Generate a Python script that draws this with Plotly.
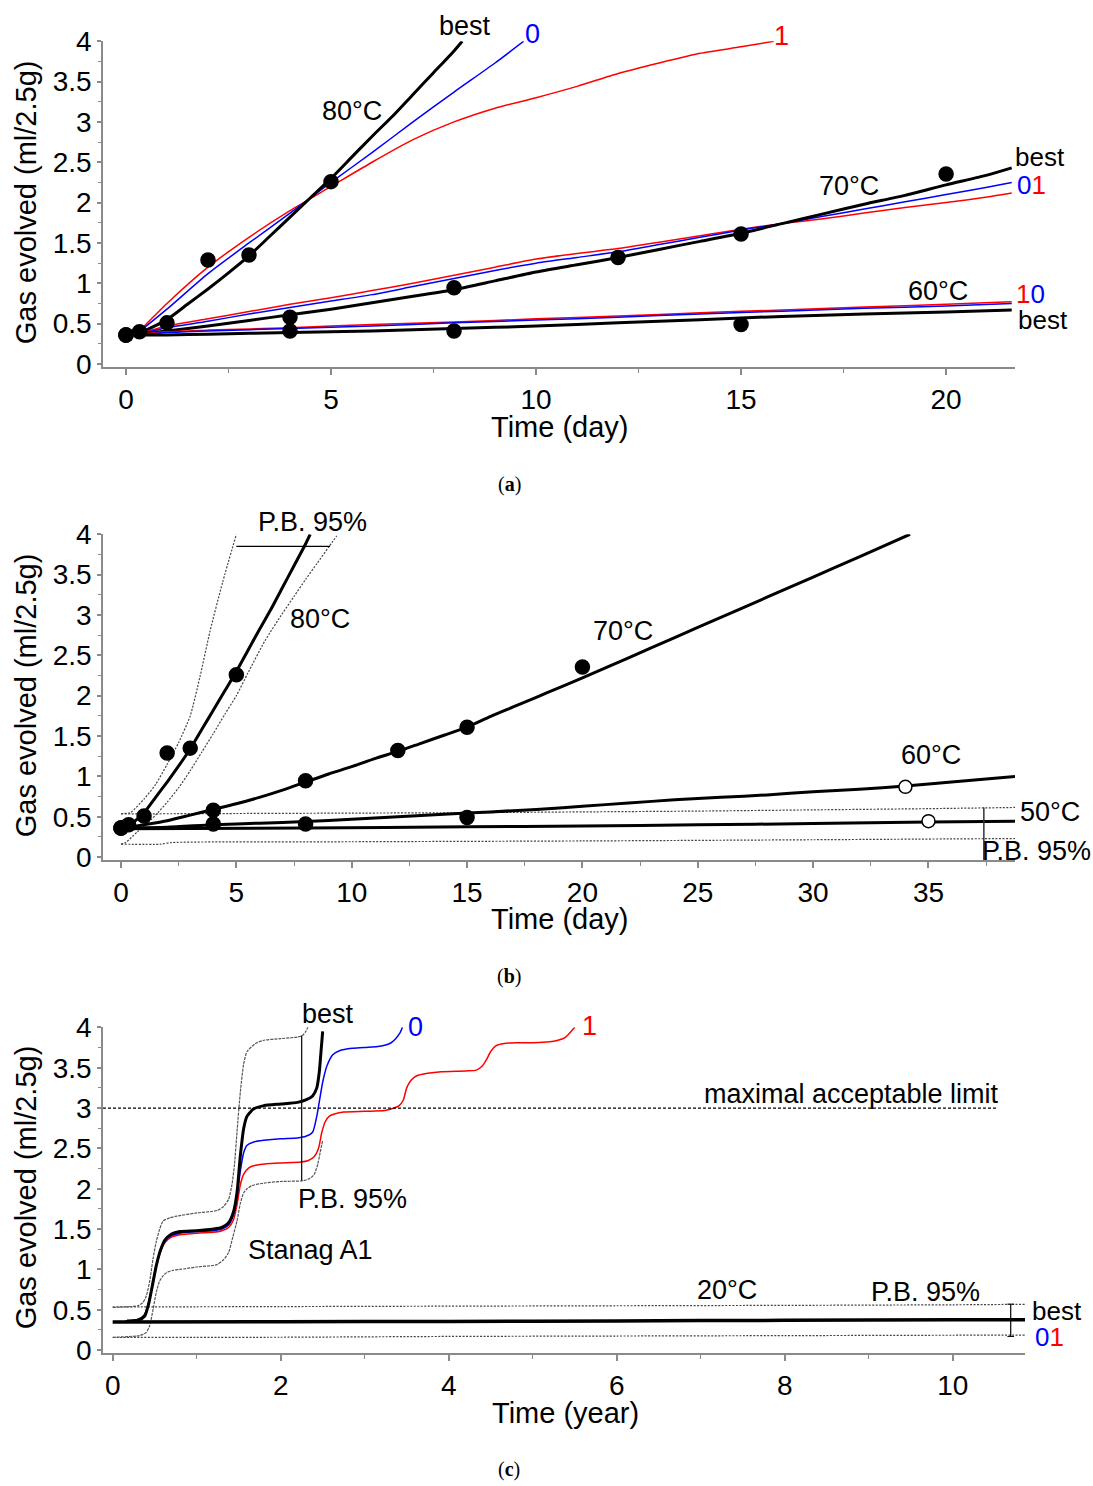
import plotly.graph_objects as go

W, H = 1093, 1486
FONT = "Liberation Sans, Arial, sans-serif"

# ---------------- Panel (a) data (days, ml/2.5g) ----------------
a80_best_t = [0.33, 1, 1.5, 2, 2.5, 3, 3.5, 4, 4.5, 5, 5.5, 6, 6.5, 7, 7.5, 8, 8.2]
a80_best_v = [0.38, 0.55, 0.74, 0.93, 1.13, 1.34, 1.58, 1.82, 2.06, 2.3, 2.56, 2.82, 3.07, 3.34, 3.61, 3.88, 4.0]
a80_m0_t = [0.25, 1, 2, 3, 4, 5, 6, 7, 8, 9, 9.7]
a80_m0_v = [0.37, 0.68, 1.12, 1.5, 1.87, 2.25, 2.62, 3.0, 3.37, 3.73, 4.0]
a80_m1_t = [0.25, 1, 2, 3, 4, 5, 6, 7, 8, 9, 10, 11, 12, 13, 14, 15, 15.8]
a80_m1_v = [0.37, 0.75, 1.2, 1.57, 1.9, 2.2, 2.5, 2.78, 3.0, 3.17, 3.3, 3.44, 3.6, 3.73, 3.85, 3.93, 4.0]

a70_t = [0.3, 1, 2, 3, 4, 5, 6, 7, 8, 9, 10, 11, 12, 13, 14, 15, 16, 17, 18, 19, 20, 21, 21.6]
a70_best_v = [0.37, 0.41, 0.47, 0.54, 0.61, 0.68, 0.76, 0.84, 0.92, 1.03, 1.14, 1.23, 1.32, 1.42, 1.52,
              1.62, 1.74, 1.86, 1.98, 2.09, 2.22, 2.34, 2.43]
a70_m0_v = [0.37, 0.45, 0.53, 0.62, 0.70, 0.78, 0.86, 0.96, 1.06, 1.16, 1.25, 1.32, 1.39, 1.48, 1.57,
            1.66, 1.74, 1.83, 1.92, 2.01, 2.10, 2.19, 2.25]
a70_m1_v = [0.37, 0.47, 0.56, 0.65, 0.74, 0.82, 0.91, 1.0, 1.10, 1.2, 1.30, 1.37, 1.43, 1.51, 1.59,
            1.67, 1.74, 1.80, 1.87, 1.94, 2.0, 2.07, 2.12]

a60_t = [0.3, 1, 2, 4, 6, 8, 10, 12, 14, 16, 18, 20, 21.6]
a60_best_v = [0.36, 0.36, 0.37, 0.39, 0.41, 0.44, 0.47, 0.51, 0.55, 0.59, 0.62, 0.645, 0.67]
a60_m0_v = [0.36, 0.39, 0.41, 0.44, 0.47, 0.51, 0.545, 0.58, 0.62, 0.655, 0.69, 0.72, 0.75]
a60_m1_v = [0.37, 0.40, 0.42, 0.45, 0.49, 0.52, 0.56, 0.595, 0.635, 0.67, 0.705, 0.74, 0.77]

# measured points (filled)
p80_t = [0, 0.33, 1, 2, 3, 5]
p80_v = [0.36, 0.40, 0.51, 1.29, 1.35, 2.26]
p70_t = [0, 4, 8, 12, 15, 20]
p70_v = [0.36, 0.58, 0.945, 1.32, 1.61, 2.355]
p60_t = [0, 4, 8, 15]
p60_v = [0.36, 0.41, 0.41, 0.49]

# ---------------- Panel (b) data ----------------
b80_best_t = a80_best_t
b80_best_v = a80_best_v
b80_up_t = [0, 0.4, 1, 1.5, 2, 2.5, 3, 3.42, 3.86, 4.4, 5.0]
b80_up_v = [0.54, 0.55, 0.72, 0.9, 1.15, 1.42, 1.75, 2.23, 2.8, 3.4, 4.0]
b80_lo_t = [0, 0.2, 0.7, 1, 1.5, 2, 2.5, 3, 3.5, 4, 4.5, 5, 5.5, 6.24, 7, 7.5, 8, 8.5, 9, 9.35]
b80_lo_v = [0.16, 0.18, 0.31, 0.38, 0.52, 0.68, 0.86, 1.07, 1.3, 1.53, 1.77, 2.0, 2.28, 2.68, 3.02,
            3.23, 3.44, 3.64, 3.84, 3.98]
b70_t = [0.35, 1, 2, 3, 4, 5, 6, 7, 8, 9, 10, 11, 12, 13, 14, 15, 16, 17, 18, 19, 20, 22, 24, 26, 28, 30, 32, 34.2]
b70_v = [0.37, 0.40, 0.45, 0.52, 0.59, 0.66, 0.74, 0.83, 0.93, 1.03, 1.12, 1.22, 1.31, 1.41, 1.51, 1.61,
         1.74, 1.86, 1.98, 2.1, 2.22, 2.47, 2.72, 2.97, 3.22, 3.47, 3.72, 4.0]
b60_t = [0, 2, 4, 6, 8, 10, 12, 14, 16, 18, 20, 22, 24, 26, 28, 30, 32, 34, 36, 38.75]
b60_v = [0.36, 0.37, 0.40, 0.42, 0.44, 0.47, 0.50, 0.53, 0.56, 0.59, 0.63, 0.67, 0.71, 0.74, 0.77,
         0.81, 0.84, 0.88, 0.93, 1.0]
b50_t = [0, 8, 15, 20, 25, 30, 35, 38.75]
b50_v = [0.35, 0.36, 0.375, 0.385, 0.40, 0.415, 0.435, 0.445]
b50_up_t = [0, 5, 10, 15, 20, 25, 30, 35, 38.75]
b50_up_v = [0.535, 0.54, 0.545, 0.55, 0.56, 0.57, 0.585, 0.6, 0.615]
b50_lo_t = [0, 1.7, 2.2, 10, 20, 30, 38.75]
b50_lo_v = [0.16, 0.16, 0.18, 0.19, 0.2, 0.215, 0.23]
# open points
o_t = [34, 35]
o_v = [0.87, 0.445]

# ---------------- Panel (c) data (years) ----------------
c_best_t = [0.17, 0.3, 0.38, 0.43, 0.48, 0.52, 0.57, 0.62, 0.7, 0.8, 1.0, 1.2, 1.3, 1.38, 1.44, 1.48, 1.52,
            1.56, 1.6, 1.68, 1.8, 2.0, 2.2, 2.3, 2.38, 2.43, 2.46, 2.48, 2.5]
c_best_v = [0.36, 0.37, 0.42, 0.58, 0.84, 1.05, 1.24, 1.36, 1.44, 1.47, 1.48, 1.5, 1.52, 1.58, 1.72, 1.95,
            2.41, 2.75, 2.9, 2.99, 3.03, 3.05, 3.07, 3.1, 3.15, 3.25, 3.45, 3.7, 3.95]
c_m0_t = [0.15, 0.3, 0.38, 0.43, 0.48, 0.52, 0.57, 0.62, 0.7, 0.8, 1.0, 1.2, 1.3, 1.38, 1.44, 1.48, 1.52,
          1.56, 1.6, 1.68, 1.8, 2.0, 2.2, 2.3, 2.38, 2.43, 2.46, 2.5, 2.55, 2.62, 2.7, 2.85, 3.0, 3.2,
          3.3, 3.36, 3.42, 3.45]
c_m0_v = [0.36, 0.38, 0.44, 0.6, 0.86, 1.06, 1.24, 1.35, 1.42, 1.45, 1.47, 1.48, 1.5, 1.55, 1.68, 1.9,
          2.22, 2.45, 2.54, 2.58, 2.6, 2.62, 2.63, 2.65, 2.7, 2.9, 3.08, 3.32, 3.52, 3.66, 3.71, 3.74,
          3.75, 3.77, 3.8, 3.85, 3.93, 4.0]
c_m1_t = [0.17, 0.3, 0.38, 0.43, 0.48, 0.52, 0.57, 0.62, 0.7, 0.8, 1.0, 1.2, 1.3, 1.38, 1.44, 1.48, 1.52,
          1.56, 1.62, 1.7, 1.83, 2.0, 2.24, 2.33, 2.4, 2.45, 2.49, 2.53, 2.58, 2.65, 2.75, 3.0, 3.24,
          3.35, 3.41, 3.46, 3.5, 3.55, 3.62, 3.75, 3.91, 4.2, 4.33, 4.4, 4.45, 4.5, 4.56, 4.66, 4.8,
          5.0, 5.2, 5.3, 5.38, 5.44, 5.5]
c_m1_v = [0.36, 0.38, 0.44, 0.6, 0.84, 1.04, 1.22, 1.33, 1.4, 1.43, 1.45, 1.46, 1.48, 1.52, 1.62, 1.8,
          2.05, 2.18, 2.26, 2.29, 2.31, 2.32, 2.33, 2.35, 2.4, 2.5, 2.7, 2.83, 2.9, 2.93, 2.95, 2.96,
          2.97, 3.0, 3.03, 3.1, 3.25, 3.34, 3.4, 3.43, 3.45, 3.46, 3.47, 3.52, 3.6, 3.7, 3.77, 3.8,
          3.81, 3.81, 3.82, 3.84, 3.87, 3.93, 4.0]
c_up_t = [0, 0.3, 0.36, 0.4, 0.44, 0.48, 0.52, 0.56, 0.6, 0.68, 0.76, 1.0, 1.24, 1.32, 1.38, 1.42, 1.45,
          1.48, 1.52, 1.56, 1.6, 1.7, 1.8, 2.0, 2.2, 2.26, 2.3, 2.33]
c_up_v = [0.53, 0.55, 0.59, 0.67, 0.85, 1.13, 1.35, 1.5, 1.6, 1.64, 1.66, 1.7, 1.73, 1.78, 1.87, 2.05,
          2.3, 2.7, 3.2, 3.55, 3.7, 3.8, 3.84, 3.86, 3.88, 3.9, 3.95, 4.02]
c_lo_t = [0, 0.32, 0.4, 0.44, 0.48, 0.52, 0.56, 0.6, 0.64, 0.72, 0.8, 1.0, 1.24, 1.32, 1.38, 1.43, 1.48,
          1.52, 1.56, 1.6, 1.66, 1.8, 2.0, 2.27, 2.35, 2.4, 2.44, 2.47, 2.5]
c_lo_v = [0.16, 0.18, 0.22, 0.3, 0.5, 0.72, 0.86, 0.92, 0.96, 0.99, 1.0, 1.03, 1.06, 1.12, 1.21, 1.4,
          1.6, 1.82, 1.95, 2.0, 2.04, 2.07, 2.09, 2.1, 2.13, 2.18, 2.3, 2.45, 2.6]
c20_t = [0, 2, 4, 6, 8, 10, 10.86]
c20_best_v = [0.35, 0.352, 0.356, 0.362, 0.37, 0.376, 0.378]
c20_up_v = [0.535, 0.54, 0.545, 0.55, 0.555, 0.562, 0.568]
c20_lo_v = [0.157, 0.16, 0.17, 0.175, 0.18, 0.185, 0.186]
limit_value = 3.0

BLACK = "#000000"
BLUE = "#0000ff"
RED = "#ff0000"
GREY = "#444444"
AXC = "#8a8a8a"

# vertical calibration of the rendered page (reference pixel -> paper fraction)
OFF, SC = 15.8, 1457.8


def YF(py):
    return 1 - (py - OFF) / SC


fig = go.Figure()


def line(x, y, ax, color=BLACK, width=3, dash="solid"):
    xa, ya = ("x", "y") if ax == 1 else (f"x{ax}", f"y{ax}")
    fig.add_trace(go.Scatter(x=x, y=y, xaxis=xa, yaxis=ya, mode="lines",
                             line=dict(color=color, width=width, dash=dash, shape="spline", smoothing=0.6),
                             showlegend=False, hoverinfo="skip"))


def pts(x, y, ax, fill=BLACK, size=14):
    xa, ya = ("x", "y") if ax == 1 else (f"x{ax}", f"y{ax}")
    fig.add_trace(go.Scatter(x=x, y=y, xaxis=xa, yaxis=ya, mode="markers",
                             marker=dict(color=fill, size=size, line=dict(color=BLACK, width=1.5)),
                             showlegend=False, hoverinfo="skip", cliponaxis=False))


DOT = "2px,1.5px"

# Panel a
for t, v, c, w in [(a80_m1_t, a80_m1_v, RED, 1.5), (a80_m0_t, a80_m0_v, BLUE, 1.5),
                   (a80_best_t, a80_best_v, BLACK, 3),
                   (a70_t, a70_m1_v, RED, 1.5), (a70_t, a70_m0_v, BLUE, 1.5), (a70_t, a70_best_v, BLACK, 3),
                   (a60_t, a60_m1_v, RED, 1.5), (a60_t, a60_m0_v, BLUE, 1.5), (a60_t, a60_best_v, BLACK, 3)]:
    line(t, v, 1, c, w)
pts(p80_t + p70_t + p60_t, p80_v + p70_v + p60_v, 1)

# Panel b
line(b50_up_t, b50_up_v, 2, GREY, 1.2, DOT)
line(b50_lo_t, b50_lo_v, 2, GREY, 1.2, DOT)
line(b80_up_t, b80_up_v, 2, GREY, 1.2, DOT)
line(b80_lo_t, b80_lo_v, 2, GREY, 1.2, DOT)
line(b80_best_t, b80_best_v, 2)
line(b70_t, b70_v, 2)
line(b60_t, b60_v, 2)
line(b50_t, b50_v, 2)
pts(p80_t + p70_t + p60_t, p80_v + p70_v + p60_v, 2)
pts(o_t, o_v, 2, fill="white", size=13)

# Panel c
line(c20_t, c20_up_v, 3, GREY, 1.2, DOT)
line(c20_t, c20_lo_v, 3, GREY, 1.2, DOT)
line(c_up_t, c_up_v, 3, "#555555", 1.2, "3px,1px")
line(c_lo_t, c_lo_v, 3, "#555555", 1.2, "3px,1px")
line(c_m1_t, c_m1_v, 3, RED, 1.5)
line(c_m0_t, c_m0_v, 3, BLUE, 1.5)
line(c_best_t, c_best_v, 3, BLACK, 3)
line(c20_t, c20_best_v, 3, BLACK, 3.5)

# shapes: P.B. markers and limit line
shapes = [
    dict(type="line", xref="x2", yref="y2", x0=5.0, x1=9.06, y0=3.85, y1=3.85, line=dict(color=BLACK, width=1.2)),
    dict(type="line", xref="x2", yref="y2", x0=37.4, x1=37.4, y0=0.615, y1=-0.04, line=dict(color="#333", width=1.5)),
    dict(type="line", xref="x3", yref="y3", x0=2.25, x1=2.25, y0=2.1, y1=3.9, line=dict(color=BLACK, width=1.2)),
    dict(type="line", xref="x3", yref="y3", x0=-0.115, x1=10.53, y0=limit_value, y1=limit_value,
         line=dict(color=BLACK, width=1.2, dash="3px,2px")),
    dict(type="line", xref="x3", yref="y3", x0=10.69, x1=10.69, y0=0.17, y1=0.57, line=dict(color=BLACK, width=1.2)),
    dict(type="line", xref="x3", yref="y3", x0=10.65, x1=10.73, y0=0.57, y1=0.57, line=dict(color=BLACK, width=1)),
    dict(type="line", xref="x3", yref="y3", x0=10.65, x1=10.73, y0=0.17, y1=0.17, line=dict(color=BLACK, width=1)),
]

AF = 27


def pann(text, px, py, size=AF, rot=0, family=FONT, color=BLACK):
    return dict(text=text, x=px / W, y=YF(py), xref="paper", yref="paper", showarrow=False,
                xanchor="center", yanchor="middle", textangle=rot,
                font=dict(family=family, size=size, color=color))


def c01(a, b):
    return f"<span style='color:{a[1]}'>{a[0]}</span><span style='color:{b[1]}'>{b[0]}</span>"


annotations = [
    # panel a
    pann("best", 465, 27), pann("0", 532, 35, color=BLUE), pann("1", 781, 37, color=RED),
    pann("80°C", 352, 112), pann("70°C", 849, 187), pann("best", 1040, 158, size=26),
    pann(c01(("0", BLUE), ("1", RED)), 1031, 186, size=26), pann("60°C", 938, 292),
    pann(c01(("1", RED), ("0", BLUE)), 1030, 295, size=26), pann("best", 1043, 321, size=26),
    # panel b
    pann("P.B. 95%", 312, 523), pann("80°C", 320, 620), pann("70°C", 623, 632),
    pann("60°C", 931, 756), pann("50°C", 1050, 813), pann("P.B. 95%", 1036, 852),
    # panel c
    pann("best", 328, 1015), pann("0", 415, 1028, color=BLUE), pann("1", 589, 1027, color=RED),
    pann("maximal acceptable limit", 851, 1095), pann("P.B. 95%", 352, 1200),
    pann("Stanag A1", 310, 1251), pann("20°C", 727, 1291), pann("P.B. 95%", 925, 1293),
    pann("best", 1057, 1312, size=26), pann(c01(("0", BLUE), ("1", RED)), 1049, 1338, size=26),
]

YT = "Gas evolved (ml/2.5g)"
SERIF = "Liberation Serif, Times New Roman, serif"
annotations += [
    pann(YT, 26, 203, size=29, rot=-90), pann(YT, 26, 696, size=29, rot=-90),
    pann(YT, 26, 1188, size=29, rot=-90),
    pann("Time (day)", 560, 428, size=29), pann("Time (day)", 560, 920, size=29),
    pann("Time (year)", 565, 1414, size=29),
    pann("(<b>a</b>)", 509, 485, size=20, family=SERIF),
    pann("(<b>b</b>)", 509, 977, size=20, family=SERIF),
    pann("(<b>c</b>)", 509, 1470, size=20, family=SERIF),
]


def xax(dom, rng, dtick, minor, anchor):
    return dict(domain=dom, range=rng, anchor=anchor, dtick=dtick, tick0=0, showline=True, linecolor=AXC,
                linewidth=1.5, ticks="outside", ticklen=6, tickwidth=1.5, tickcolor=AXC, showgrid=False,
                zeroline=False, tickfont=dict(family=FONT, size=28, color=BLACK),
                minor=dict(dtick=minor, tick0=0, ticks="outside", ticklen=4, tickcolor=AXC, tickwidth=1.2,
                           showgrid=False))


def yax(dom, anchor):
    return dict(domain=dom, range=[-0.04, 4.0], anchor=anchor, dtick=0.5, tick0=0, showline=True,
                linecolor=AXC, linewidth=1.5, ticks="outside", ticklen=4, tickwidth=1.5, tickcolor=AXC,
                showgrid=False, zeroline=False, tickfont=dict(family=FONT, size=28, color=BLACK),
                minor=dict(dtick=0.25, tick0=0, ticks="outside", ticklen=3, tickcolor=AXC, tickwidth=1.2,
                           showgrid=False))


xd12 = [103 / W, 1015 / W]
xd3 = [103 / W, 1025 / W]
fig.update_layout(
    width=W, height=H, margin=dict(l=0, r=0, t=0, b=0),
    paper_bgcolor="white", plot_bgcolor="white", showlegend=False,
    font=dict(family=FONT, color=BLACK),
    xaxis=xax(xd12, [-0.56, 21.68], 5, 2.5, "y"),
    yaxis=yax([YF(368), YF(42)], "x"),
    xaxis2=xax(xd12, [-0.78, 38.75], 5, 2.5, "y2"),
    yaxis2=yax([YF(861), YF(535)], "x2"),
    xaxis3=xax(xd3, [-0.115, 10.86], 2, 1, "y3"),
    yaxis3=yax([YF(1354), YF(1028)], "x3"),
    shapes=shapes, annotations=annotations,
)

fig.write_html("out.html")
